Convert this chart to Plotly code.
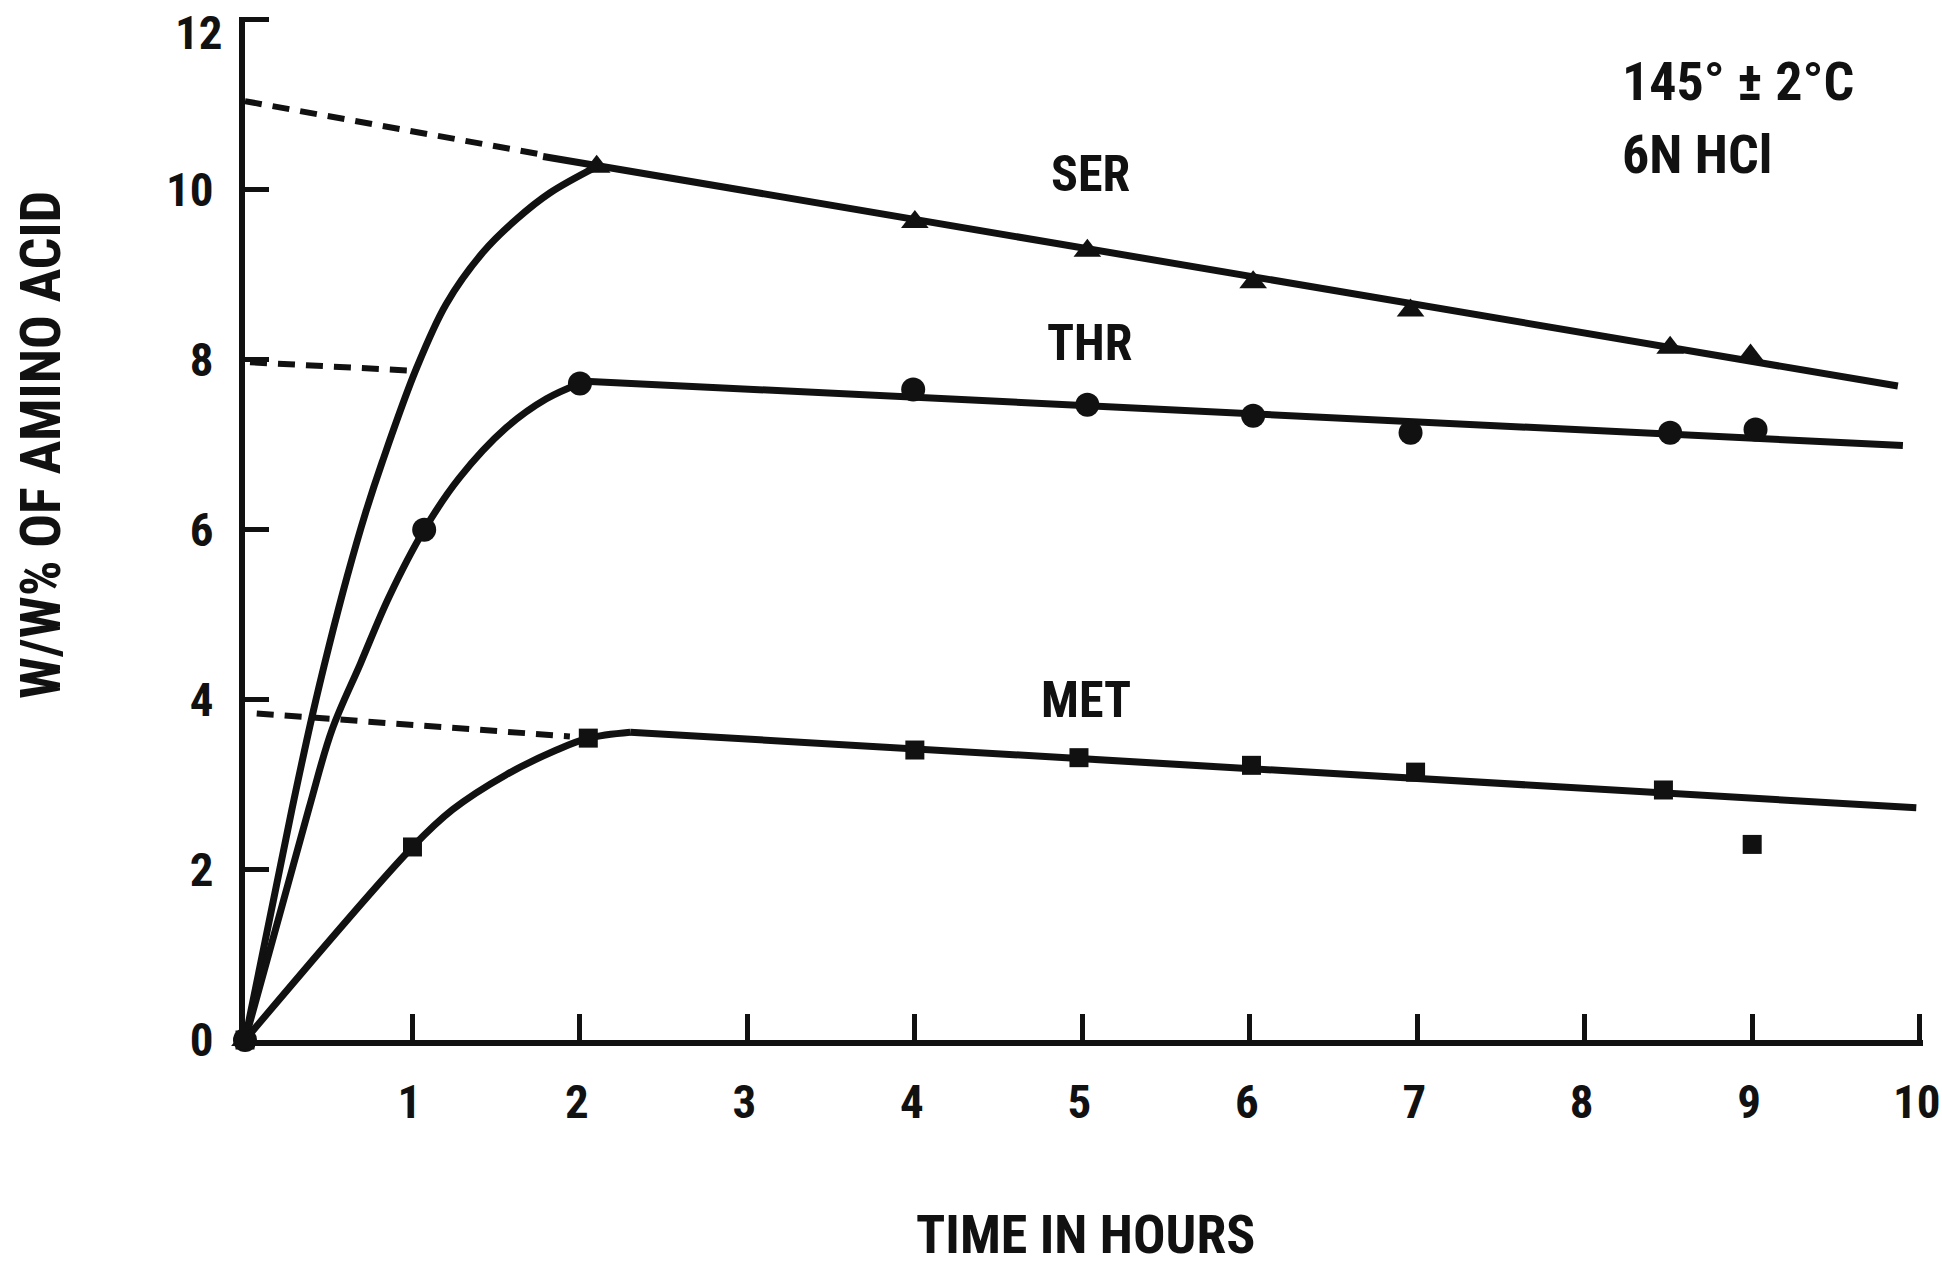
import plotly.graph_objects as go

# ---------------- data ----------------
ser_hours = [0, 2.1, 4.0, 5.03, 6.02, 6.96, 8.51, 8.99]
ser_vals = [0, 10.27, 9.62, 9.28, 8.91, 8.58, 8.14, 8.05]

thr_hours = [0, 1.07, 2.0, 3.99, 5.03, 6.02, 6.96, 8.51, 9.02]
thr_vals = [0, 6.0, 7.72, 7.65, 7.47, 7.34, 7.14, 7.14, 7.18]

met_hours = [0, 1.0, 2.05, 4.0, 4.98, 6.01, 6.99, 8.47, 9.0]
met_vals = [0, 2.27, 3.55, 3.41, 3.32, 3.23, 3.15, 2.94, 2.30]

# hand-drawn rising curves (positions)
ser_rise_hours = [0, 0.28, 0.40, 0.50, 0.61, 0.72, 0.82, 1.02, 1.20, 1.42, 1.62, 1.82, 2.1]
ser_rise_vals = [0, 2.71, 3.80, 4.62, 5.45, 6.20, 6.80, 7.88, 8.65, 9.26, 9.65, 9.96, 10.27]

thr_rise_hours = [0, 0.38, 0.52, 0.69, 0.86, 1.07, 1.28, 1.56, 1.80, 2.0]
thr_rise_vals = [0, 2.71, 3.65, 4.43, 5.21, 6.0, 6.61, 7.20, 7.54, 7.72]

met_rise_hours = [0, 1.0, 1.24, 1.56, 1.86, 2.05, 2.3]
met_rise_vals = [0, 2.27, 2.71, 3.12, 3.41, 3.55, 3.62]

# straight decomposition lines (end points)
ser_line_hours = [1.78, 9.87]
ser_line_vals = [10.39, 7.69]
thr_line_hours = [2.0, 9.9]
thr_line_vals = [7.75, 6.99]
met_line_hours = [2.3, 9.98]
met_line_vals = [3.62, 2.73]

# dashed extrapolations back to zero time
ser_extrap_hours = [0, 1.75]
ser_extrap_vals = [11.04, 10.42]
thr_extrap_hours = [0.03, 1.0]
thr_extrap_vals = [7.97, 7.87]
met_extrap_hours = [0.07, 1.94]
met_extrap_vals = [3.84, 3.57]

x_ticks = [1, 2, 3, 4, 5, 6, 7, 8, 9, 10]
x_tick_labels = ["1", "2", "3", "4", "5", "6", "7", "8", "9", "10"]
y_ticks = [0, 2, 4, 6, 8, 10, 12]
y_tick_labels = ["0", "2", "4", "6", "8", "10", "12"]

series_labels = ["SER", "THR", "MET"]
label_pos_hours = [5.05, 5.04, 5.02]
label_pos_vals = [10.18, 8.2, 4.0]

condition_lines = ["145° ± 2°C", "6N HCl"]

x_title = "TIME IN HOURS"
y_title = "W/W% OF AMINO ACID"

# ---------------- styling ----------------
FONT = "Roboto Condensed, Liberation Sans Narrow, DejaVu Sans Condensed, sans-serif"
INK = "#111111"
LW = 7
TICKFONT = dict(family=FONT, size=47, color=INK, weight="bold")

fig = go.Figure()


def line(x, y, shape="linear", dash="solid", width=LW):
    fig.add_trace(go.Scatter(
        x=x, y=y, mode="lines",
        line=dict(color=INK, width=width, shape=shape, smoothing=1.0 if shape == "spline" else None, dash=dash),
        showlegend=False, hoverinfo="skip", cliponaxis=False))


def marks(x, y, symbol, size):
    fig.add_trace(go.Scatter(
        x=x, y=y, mode="markers",
        marker=dict(symbol=symbol, size=size, color=INK, line=dict(width=0)),
        showlegend=False, cliponaxis=False))


DASH = "17px,11px"
line(ser_extrap_hours, ser_extrap_vals, dash=DASH, width=6)
line(thr_extrap_hours, thr_extrap_vals, dash=DASH, width=6)
line(met_extrap_hours, met_extrap_vals, dash=DASH, width=6)

line(ser_rise_hours, ser_rise_vals, shape="spline")
line(thr_rise_hours, thr_rise_vals, shape="spline")
line(met_rise_hours, met_rise_vals, shape="spline")

line(ser_line_hours, ser_line_vals)
line(thr_line_hours, thr_line_vals)
line(met_line_hours, met_line_vals)

marks(ser_hours, ser_vals, "triangle-up", 24)
marks(thr_hours, thr_vals, "circle", 24)
marks(met_hours, met_vals, "square", 19)

annotations = []
for txt, xh, yv in zip(series_labels, label_pos_hours, label_pos_vals):
    annotations.append(dict(x=xh, y=yv, xref="x", yref="y", text=txt, showarrow=False,
                            font=dict(family=FONT, size=50, color=INK, weight="bold"),
                            xanchor="center", yanchor="middle"))

annotations.append(dict(x=8.21, y=11.27, xref="x", yref="y", text=condition_lines[0], showarrow=False,
                        font=dict(family=FONT, size=54, color=INK, weight="bold"),
                        xanchor="left", yanchor="middle"))
annotations.append(dict(x=8.21, y=10.41, xref="x", yref="y", text=condition_lines[1], showarrow=False,
                        font=dict(family=FONT, size=54, color=INK, weight="bold"),
                        xanchor="left", yanchor="middle"))

annotations.append(dict(x=0.501, y=-0.2225, xref="paper", yref="paper", text=x_title, showarrow=False,
                        font=dict(family=FONT, size=54, color=INK, weight="bold"),
                        xanchor="center", yanchor="bottom"))
annotations.append(dict(x=-0.122, y=0.582, xref="paper", yref="paper", text=y_title, showarrow=False,
                        textangle=-90,
                        font=dict(family=FONT, size=56, color=INK, weight="bold"),
                        xanchor="center", yanchor="middle"))

# the top y label sits a little below its tick in the original, inside the page
annotations.append(dict(x=0, y=y_ticks[-1], xref="paper", yref="y", text=y_tick_labels[-1], showarrow=False,
                        font=TICKFONT, xanchor="right", yanchor="middle", xshift=-20, yshift=-13))
axis_y_text = y_tick_labels[:-1] + [""]

fig.update_layout(
    width=1942, height=1268, autosize=False,
    margin=dict(l=245, r=19, t=17, b=228, autoexpand=False),
    paper_bgcolor="white", plot_bgcolor="white",
    annotations=annotations,
    xaxis=dict(range=[0, 10.02], tickvals=x_ticks, ticktext=x_tick_labels,
               automargin=False,
               ticks="inside", ticklen=26, tickwidth=5, tickcolor=INK,
               showline=True, linewidth=6, linecolor=INK, showgrid=False, zeroline=False,
               ticklabelstandoff=16, ticklabelshift=-3, ticklabeloverflow="allow",
               tickfont=TICKFONT),
    yaxis=dict(range=[0, 12.03], tickvals=y_ticks, ticktext=axis_y_text,
               automargin=False,
               ticks="inside", ticklen=24, tickwidth=5, tickcolor=INK,
               showline=True, linewidth=6, linecolor=INK, showgrid=False, zeroline=False,
               ticklabelstandoff=16, ticklabeloverflow="allow",
               tickfont=TICKFONT),
)

fig.write_html("out.html")
